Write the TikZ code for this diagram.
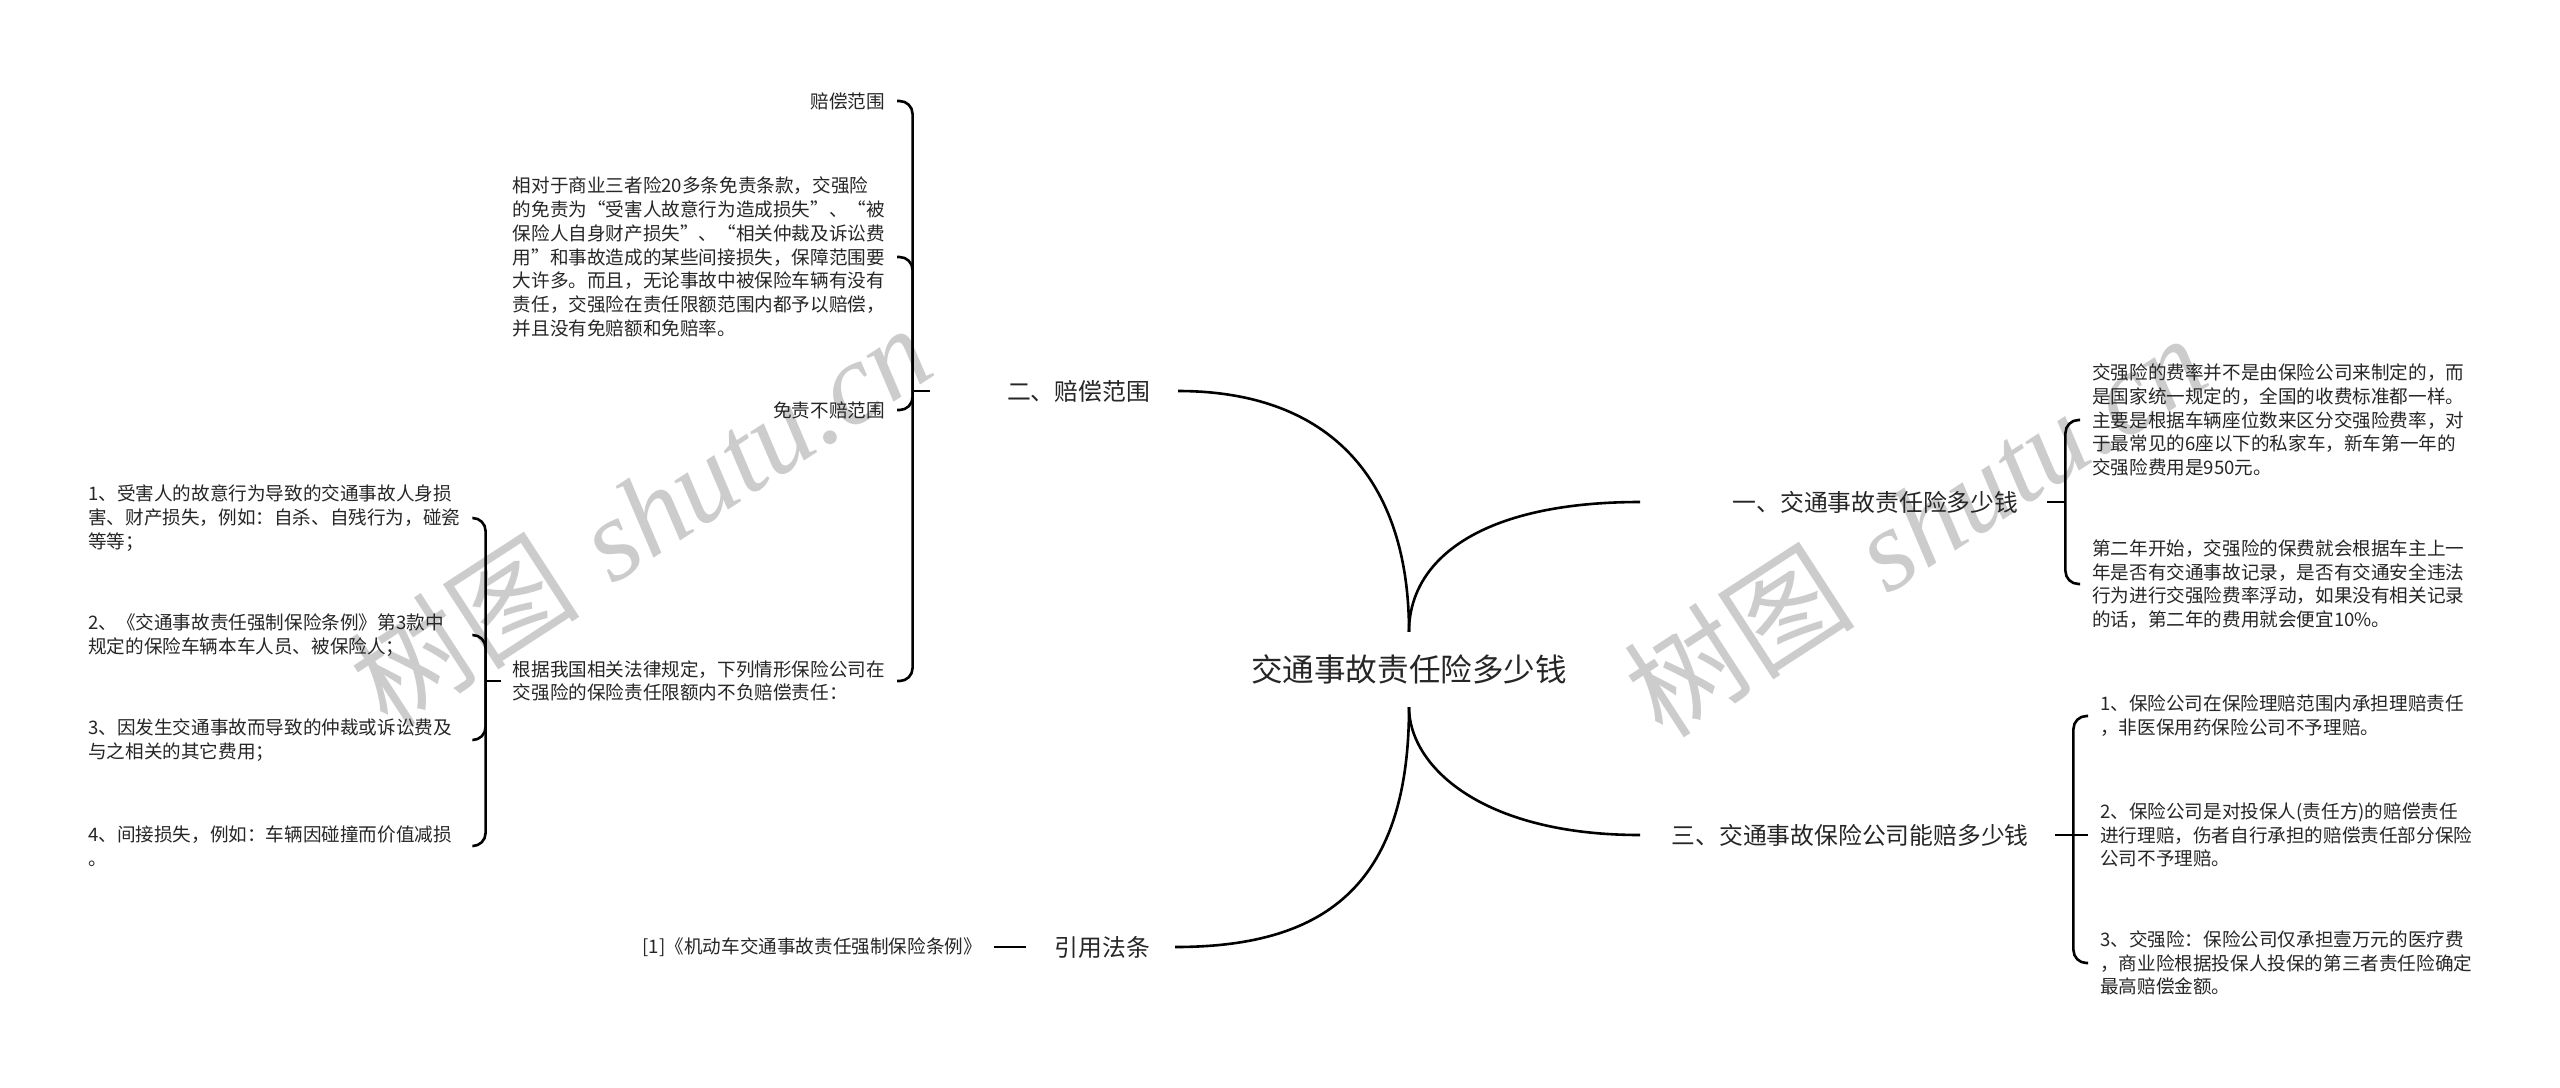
\documentclass[tikz,border=0pt]{standalone}
\usepackage{fontspec}
\setmainfont{Noto Sans CJK SC}
\newfontfamily\wmserif{Liberation Serif}
\begin{document}
\begin{tikzpicture}[x=1bp,y=-1bp,
  txt/.style={text=black!85, inner ysep=2bp},
  root/.style={txt, font=\fontsize{31.6bp}{38bp}\selectfont, inner sep=0pt, minimum height=75bp},
  lvone/.style={txt, font=\fontsize{23.8bp}{28bp}\selectfont, align=right},
  small/.style={txt, font=\fontsize{18.6bp}{23.8bp}\selectfont, inner xsep=12bp},
  conn/.style={draw=black, line width=2.6bp},
  brace/.style={conn, rounded corners=13bp},
  wm/.style={text=black!20, rotate=33, inner sep=0pt}
]
\fill[white] (0,0) rectangle (2560,1087);
\useasboundingbox (0,0) rectangle (2560,1087);

% watermarks
\node[wm] (wm1) at (640,515) {\fontsize{116bp}{120bp}\selectfont 树图\hspace{0.3em}{\wmserif\itshape shutu.cn}};
\node[wm] (wm2) at (1915,525) {\fontsize{116bp}{120bp}\selectfont 树图\hspace{0.3em}{\wmserif\itshape shutu.cn}};

% root
\node[root] (c) at (1409,669.5) {交通事故责任险多少钱};

% level one
\node[lvone, text width=349bp, inner xsep=29bp, anchor=west] (n1) at (1640,502) {一、交通事故责任险多少钱};
\node[lvone, text width=362bp, inner xsep=26.5bp, anchor=west] (n3) at (1640,835) {三、交通事故保险公司能赔多少钱};
\node[lvone, text width=192bp, inner xsep=28bp, anchor=east] (n2) at (1178,391) {二、赔偿范围};
\node[lvone, text width=99bp, inner xsep=25bp, anchor=east] (n4) at (1175,947) {引用法条};

% children of 二
\node[small, anchor=east] (a1) at (897,101) {赔偿范围};
\node[small, anchor=east, align=left] (a2) at (897,257) {相对于商业三者险20多条免责条款，交强险\\的免责为“受害人故意行为造成损失”、“被\\保险人自身财产损失”、“相关仲裁及诉讼费\\用”和事故造成的某些间接损失，保障范围要\\大许多。而且，无论事故中被保险车辆有没有\\责任，交强险在责任限额范围内都予以赔偿，\\并且没有免赔额和免赔率。};
\node[small, anchor=east] (a3) at (897,410) {免责不赔范围};
\node[small, anchor=east, align=left] (a4) at (897,681) {根据我国相关法律规定，下列情形保险公司在\\交强险的保险责任限额内不负赔偿责任：};

% children of 根据
\node[small, anchor=west, align=left, text width=372bp] (b1) at (76,518) {1、受害人的故意行为导致的交通事故人身损\\害、财产损失，例如：自杀、自残行为，碰瓷\\等等；};
\node[small, anchor=west, align=left, text width=372bp] (b2) at (76,635) {2、《交通事故责任强制保险条例》第3款中\\规定的保险车辆本车人员、被保险人；};
\node[small, anchor=west, align=left, text width=372bp] (b3) at (76,740) {3、因发生交通事故而导致的仲裁或诉讼费及\\与之相关的其它费用；};
\node[small, anchor=west, align=left, text width=372bp] (b4) at (76,846) {4、间接损失，例如：车辆因碰撞而价值减损\\。};

% children of 一
\node[small, anchor=west, align=left] (r1) at (2080,420) {交强险的费率并不是由保险公司来制定的，而\\是国家统一规定的，全国的收费标准都一样。\\主要是根据车辆座位数来区分交强险费率，对\\于最常见的6座以下的私家车，新车第一年的\\交强险费用是950元。};
\node[small, anchor=west, align=left] (r2) at (2080,584) {第二年开始，交强险的保费就会根据车主上一\\年是否有交通事故记录，是否有交通安全违法\\行为进行交强险费率浮动，如果没有相关记录\\的话，第二年的费用就会便宜10\%。};

% children of 三
\node[small, anchor=west, align=left] (s1) at (2088,716) {1、保险公司在保险理赔范围内承担理赔责任\\，非医保用药保险公司不予理赔。};
\node[small, anchor=west, align=left] (s2) at (2088,835) {2、保险公司是对投保人(责任方)的赔偿责任\\进行理赔，伤者自行承担的赔偿责任部分保险\\公司不予理赔。};
\node[small, anchor=west, align=left] (s3) at (2088,963) {3、交强险：保险公司仅承担壹万元的医疗费\\，商业险根据投保人投保的第三者责任险确定\\最高赔偿金额。};

% child of 引用法条
\node[small, anchor=east] (ref) at (994,947) {[1]《机动车交通事故责任强制保险条例》};

% main curves
\draw[conn] (c.north) .. controls +(0,-152) and +(152,0) .. (n2.east);
\draw[conn] (c.north) .. controls +(0,-72) and +(-160,0) .. (n1.west);
\draw[conn] (c.south) .. controls +(0,58) and +(-160,0) .. (n3.west);
\draw[conn] (c.south) .. controls +(0,183) and +(145,0) .. (n4.east);
\draw[conn] (n4.west) -- (ref.east);

% braces
\coordinate (j1) at ([xshift=18bp]n1.east);
\draw[conn] (n1.east) -- (j1);
\foreach \nm in {r1,r2} \draw[brace] (j1) |- (\nm.west);

\coordinate (j3) at ([xshift=18bp]n3.east);
\draw[conn] (n3.east) -- (j3);
\draw[conn] (j3) -- (s2.west);
\foreach \nm in {s1,s3} \draw[brace] (j3) |- (\nm.west);

\coordinate (j2) at ([xshift=-17bp]n2.west);
\draw[conn] (n2.west) -- (j2);
\foreach \nm in {a1,a2,a3,a4} \draw[brace] (j2) |- (\nm.east);

\coordinate (j4) at ([xshift=-15bp]a4.west);
\draw[conn] (a4.west) -- (j4);
\foreach \nm in {b1,b2,b3,b4} \draw[brace] (j4) |- (\nm.east);
\end{tikzpicture}
\end{document}
